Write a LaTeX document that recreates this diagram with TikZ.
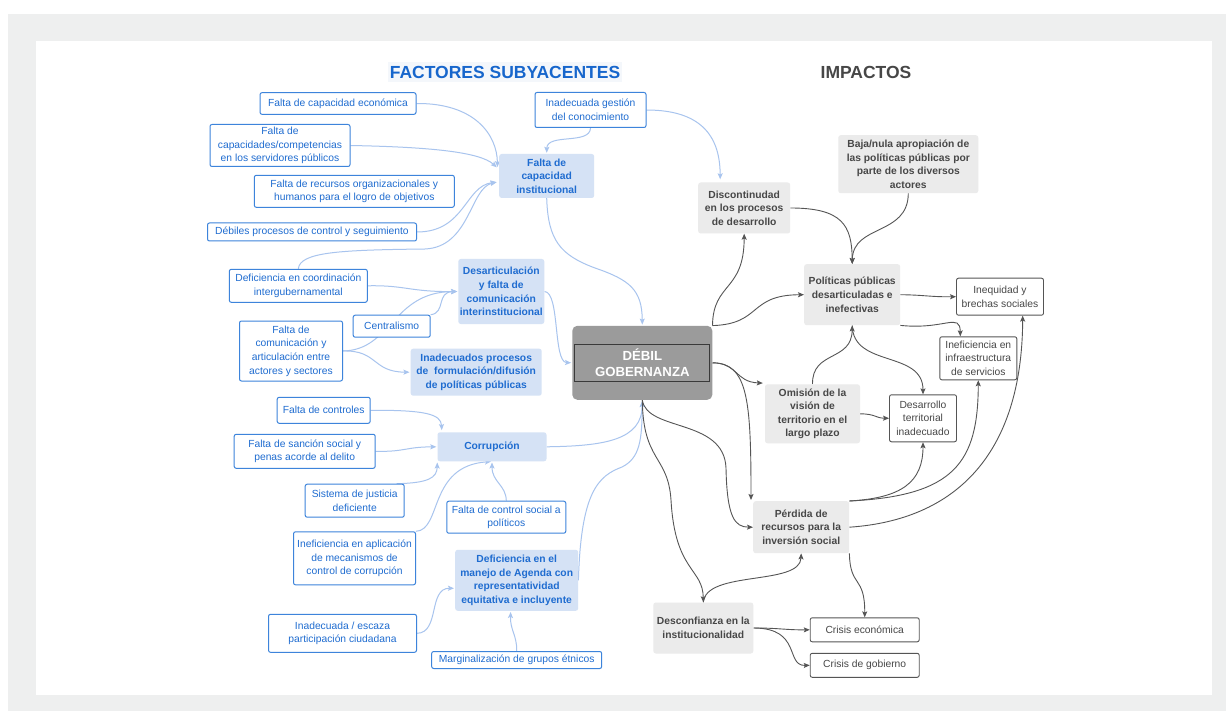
\documentclass[tikz,border=0pt]{standalone}
\usepackage{fontspec}
\setmainfont{Liberation Sans}
\usetikzlibrary{arrows.meta,calc}
\definecolor{bluetxt}{HTML}{1F6CD0}
\definecolor{bluehead}{HTML}{1766CC}
\definecolor{headbg}{HTML}{F4F7FB}
\definecolor{blueborder}{HTML}{3D84DB}
\definecolor{bluefill}{HTML}{D5E2F5}
\definecolor{blueline}{HTML}{A8C4EE}
\definecolor{grayfill}{HTML}{EBEBEB}
\definecolor{graytxt}{HTML}{474747}
\definecolor{grayline}{HTML}{555555}
\definecolor{framegray}{HTML}{EEEFEF}
\definecolor{centerfill}{HTML}{9B9B9B}
\definecolor{centerline}{HTML}{3A3A3A}
\newcommand\myfn{\fontsize{10.3}{13.6}\selectfont}
\newcommand\myfb{\fontsize{10.3}{13.6}\selectfont\bfseries}
\pgfdeclarelayer{frame}
\pgfdeclarelayer{lines}
\pgfsetlayers{frame,lines,main}
\begin{document}
\begin{tikzpicture}[x=1pt,y=-1pt,
  sz/.style 2 args={minimum width=#1pt,minimum height=#2pt},
  bbox/.style={draw=blueborder,line width=1pt,fill=white,rounded corners=2pt,text=bluetxt,font=\myfn,align=center,inner sep=0pt},
  bfill/.style={fill=bluefill,rounded corners=2.5pt,text=bluetxt,font=\myfb,align=center,inner sep=0pt},
  gfill/.style={fill=grayfill,rounded corners=2.5pt,text=graytxt,font=\myfb,align=center,inner sep=0pt},
  gbox/.style={draw=grayline,line width=0.9pt,fill=white,rounded corners=2pt,text=graytxt,font=\myfn,align=center,inner sep=0pt},
  bl/.style={draw=blueline,line width=1pt,-{Stealth[length=6pt,width=5pt,inset=1.2pt]},shorten >=1pt},
  gl/.style={draw=grayline,line width=0.9pt,-{Stealth[length=6pt,width=5pt,inset=1.2pt]}},
  headfont/.style={font=\fontsize{17.5}{20}\selectfont\bfseries}
]
\begin{pgfonlayer}{frame}
\fill[white] (0,0) rectangle (1226,711);
\fill[framegray] (8,14) rectangle (1226,711);
\fill[white] (36,41) rectangle (1212,695);
\end{pgfonlayer}
\useasboundingbox (0,0) rectangle (1226,711);

% headers
\node[headfont,text=bluehead,fill=headbg,inner sep=0pt,sz={234}{20}] (h1) at (505,72) {FACTORES SUBYACENTES};
\node[headfont,text=graytxt,inner sep=0pt] (h2) at (866,72) {IMPACTOS};

% left side blue outline boxes
\node[bbox,sz={156}{21.6}] (f1) at (338,103.5) {Falta de capacidad económica};
\node[bbox,sz={140}{42}] (f2) at (280,145.5) {Falta de\\capacidades/competencias\\en los servidores públicos};
\node[bbox,sz={200}{32}] (f3) at (354.3,191.3) {Falta de recursos organizacionales y\\humanos para el logro de objetivos};
\node[bbox,sz={209}{18}] (f4) at (312,232) {Débiles procesos de control y seguimiento};
\node[bbox,sz={111}{35}] (f5) at (590.5,110) {Inadecuada gestión\\del conocimiento};
\node[bbox,sz={138}{33}] (f6) at (298.3,285.8) {Deficiencia en coordinación\\intergubernamental};
\node[bbox,sz={77}{22}] (f7) at (391.7,326.2) {Centralismo};
\node[bbox,sz={103}{60}] (f8) at (291,351) {Falta de\\comunicación y\\articulación entre\\actores y sectores};
\node[bbox,sz={93}{26}] (f9) at (323.7,410.3) {Falta de controles};
\node[bbox,sz={141}{34}] (f10) at (304.7,451.3) {Falta de sanción social y\\penas acorde al delito};
\node[bbox,sz={99}{33}] (f11) at (354.7,500.7) {Sistema de justicia\\deficiente};
\node[bbox,sz={119}{32}] (f12) at (506.3,517.2) {Falta de control social a\\políticos};
\node[bbox,sz={122}{53}] (f13) at (354.5,558.3) {Ineficiencia en aplicación\\de mecanismos de\\control de corrupción};
\node[bbox,sz={148}{38}] (f14) at (342.5,633.3) {Inadecuada / escaza\\participación ciudadana};
\node[bbox,sz={170}{17}] (f15) at (516.7,660) {Marginalización de grupos étnicos};

% blue filled boxes
\node[bfill,sz={95}{44}] (A) at (546.7,176) {Falta de\\capacidad\\institucional};
\node[bfill,sz={86}{65}] (B) at (501.3,291.5) {Desarticulación\\y falta de\\comunicación\\interinstitucional};
\node[bfill,sz={131}{47}] (C) at (476.2,372.2) {Inadecuados procesos\\de~ formulación/difusión\\de políticas públicas};
\node[bfill,sz={109}{29}] (D) at (492,446.8) {Corrupción};
\node[bfill,sz={123}{61}] (E) at (516.7,580.3) {Deficiencia en el\\manejo de Agenda con\\representatividad\\equitativa e incluyente};

% center
\node[fill=centerfill,rounded corners=5pt,sz={140}{74},text=white,align=center,inner sep=0pt,
      font=\fontsize{13.2}{16.7}\selectfont\bfseries] (deb) at (642.3,362.8) {DÉBIL\\GOBERNANZA};
\node[draw=centerline,line width=1pt,sz={135}{37},inner sep=0pt] (debin) at (641.7,363.3) {};

% impacts gray filled boxes
\node[gfill,sz={92}{51}] (G1) at (744.2,208) {Discontinudad\\en los procesos\\de desarrollo};
\node[gfill,sz={140}{58}] (G2) at (908.3,164.2) {Baja/nula apropiación de\\las políticas públicas por\\parte de los diversos\\actores};
\node[gfill,sz={96}{61}] (G3) at (852.2,294.7) {Políticas públicas\\desarticuladas e\\inefectivas};
\node[gfill,sz={95}{59}] (G4) at (812.5,413.8) {Omisión de la\\visión de\\territorio en el\\largo plazo};
\node[gfill,sz={96}{52}] (G5) at (801.2,527.2) {Pérdida de\\recursos para la\\inversión social};
\node[gfill,sz={100}{51}] (G6) at (703.3,628) {Desconfianza en la\\institucionalidad};

% impacts outline boxes
\node[gbox,sz={87}{37}] (W1) at (1000,296.7) {Inequidad y\\brechas sociales};
\node[gbox,sz={77}{43}] (W2) at (978.3,358.3) {Ineficiencia en\\infraestructura\\de servicios};
\node[gbox,sz={67}{47}] (W3) at (923,418.3) {Desarrollo\\territorial\\inadecuado};
\node[gbox,sz={109}{24}] (W4) at (864.7,629.8) {Crisis económica};
\node[gbox,sz={109}{24}] (W5) at (864.7,665.3) {Crisis de gobierno};

\begin{pgfonlayer}{lines}
% blue connectors
\draw[bl] (f1.east) .. controls (475,103) and (497,135) .. ($(A.west)+(-1.5,-8)$);
\draw[bl] (f2.east) .. controls (430,147) and (480,152) .. ($(A.west)+(-1.5,-8)$);
\draw[bl] (f4.east) .. controls (465,232) and (465,186) .. ($(A.west)+(-1.5,6)$);
\draw[bl] (f6.north) .. controls (300,252) and (340,250) .. (425,249) .. controls (470,247) and (470,188) .. ($(A.west)+(-1.5,6)$);
\draw[bl] (f5.south) .. controls (590,145) and (547,133) .. (A.north);
\draw[bl] (f5.east) .. controls (705,110) and (720,140) .. ($(G1.north)+(-24,-2)$);
\draw[bl] (A.south) .. controls (548,240) and (560,255) .. (595,268) .. controls (630,280) and (642,290) .. (deb.north);
\draw[bl] (f6.east) .. controls (405,285) and (410,292) .. (B.west);
\draw[bl] (f7.north east) .. controls (446,313) and (436,292) .. (B.west);
\draw[bl] (f8.east) .. controls (392,350) and (392,292) .. (B.west);
\draw[bl] (f8.east) .. controls (378,350) and (372,372) .. (C.west);
\draw[bl] (B.east) .. controls (560,292) and (553,362) .. (deb.west);
\draw[bl] (f9.east) .. controls (425,410) and (441,414) .. ($(D.north west)+(4.5,-1)$);
\draw[bl] (f10.east) .. controls (405,452) and (405,447) .. (D.west);
\draw[bl] ($(f11.north east)+(-8,0)$) .. controls (428,483) and (437,478) .. ($(D.south west)+(0,0)$);
\draw[bl] (f13.north east) .. controls (442,530) and (428,466) .. (D.south);
\draw[bl] (f12.north) .. controls (506,485) and (492,482) .. (D.south);
\draw[bl] (D.east) .. controls (605,446) and (642,440) .. (deb.south);
\draw[bl] (E.east) .. controls (581,492) and (598,476) .. (622,467) .. controls (640,458) and (642,440) .. (deb.south);
\draw[bl] (f14.east) .. controls (440,633) and (428,588) .. ($(E.west)+(0,8)$);
\draw[bl] (f15.north) .. controls (517,635) and (510,630) .. ($(E.south)+(-6,0)$);

% gray connectors
\draw[gl] (deb.north east) .. controls (713,282) and (744,292) .. (G1.south);
\draw[gl] (deb.north east) .. controls (762,324) and (748,295) .. (G3.west);
\draw[gl] (G1.east) .. controls (842,208) and (852,225) .. (G3.north);
\draw[gl] (G2.south) .. controls (908,236) and (853,224) .. (G3.north);
\draw[gl] (G3.east) .. controls (925,295) and (930,297) .. (W1.west);
\draw[gl] (G3.south east) .. controls (945,330) and (960,312) .. ($(W2.north)+(-18,0)$);
\draw[gl] (deb.east) .. controls (738,363) and (735,382) .. ($(G4.north west)+(-2,-1)$);
\draw[gl] (deb.east) .. controls (748,363) and (751,400) .. ($(G5.north west)+(-2,-1)$);
\draw[gl] (G4.north) .. controls (812,350) and (852,362) .. (G3.south);
\draw[gl] (G3.south) .. controls (853,368) and (923,350) .. (W3.north);
\draw[gl] (G4.east) .. controls (876,414) and (875,418) .. (W3.west);
\draw[gl] (G5.north east) .. controls (902,498) and (923,482) .. (W3.south);
\draw[gl] (G5.north east) .. controls (955,496) and (978,462) .. (W2.south);
\draw[gl] (G5.east) .. controls (955,520) and (1022,455) .. ($(W1.south)+(22.7,0)$);
\draw[gl] (deb.south) .. controls (647,432) and (724,418) .. (726,468) .. controls (727,518) and (735,527) .. (G5.west);
\draw[gl] (deb.south) .. controls (643,462) and (668,455) .. (671,500) .. controls (675,572) and (703,568) .. (G6.north);
\draw[gl] (G6.north) .. controls (706,570) and (800,586) .. (G5.south);
\draw[gl] (G5.south east) .. controls (850,588) and (865,575) .. (W4.north);
\draw[gl] (G6.east) .. controls (780,628) and (785,630) .. (W4.west);
\draw[gl] (G6.east) .. controls (802,628) and (785,666) .. (W5.west);
\end{pgfonlayer}
\end{tikzpicture}
\end{document}
